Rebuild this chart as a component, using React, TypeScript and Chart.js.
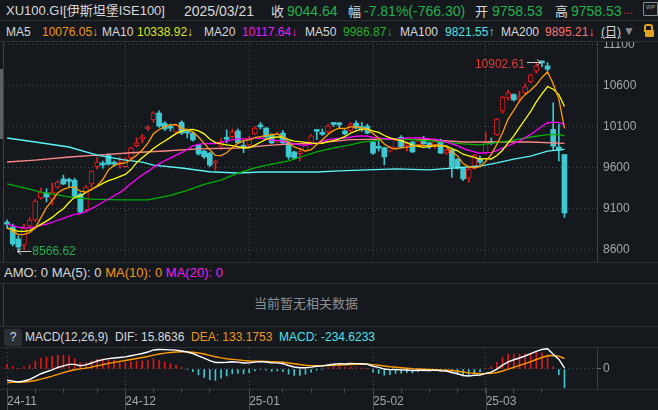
import React, { useEffect, useRef } from 'react';
import { Chart, registerables } from 'chart.js';

Chart.register(...registerables);

// ---------------- data ----------------
const monthKeys = ['2024-11', '2024-12', '2025-01', '2025-02', '2025-03'];
const monthLabels = ['24-11', '24-12', '25-01', '25-02', '25-03'];
const novDays = [1, 4, 5, 6, 7, 8, 11, 12, 13, 14, 15, 18, 19, 20, 21, 22, 25, 26, 27, 28, 29];
const decDays = [2, 3, 4, 5, 6, 9, 10, 11, 12, 13, 16, 17, 18, 19, 20, 23, 24, 25, 26, 27, 30, 31];
const janDays = [2, 3, 6, 7, 8, 9, 10, 13, 14, 15, 16, 17, 20, 21, 22, 23, 24, 27, 28, 29, 30, 31];
const febDays = [3, 4, 5, 6, 7, 10, 11, 12, 13, 14, 17, 18, 19, 20, 21, 24, 25, 26, 27, 28];
const marDays = [3, 4, 5, 6, 7, 10, 11, 12, 13, 14, 17, 18, 19, 20, 21];
const daysByMonth = [novDays, decDays, janDays, febDays, marDays];

const opens = [
  8930, 8874, 8728, 8654, 8886, 8959, 9228, 9289, 9215, 9362,
  9460, 9440, 9445, 9275, 9080, 9400, 9610, 9645, 9750, 9650,
  9640, 9610, 9720, 9865, 9950, 10070, 10180, 10265, 10140, 10100,
  10035, 10150, 10030, 10020, 9875, 9800, 9775, 9655, 9860, 9955,
  9975, 10045, 9855, 9875, 10010, 10105, 10080, 9995, 9910, 10020,
  9910, 9790, 9770, 9800, 9910, 10050, 10015, 10035, 10135, 10130,
  10045, 10045, 10140, 10085, 10105, 9910, 9845, 9840, 9800, 9840,
  9970, 9870, 9910, 9860, 9950, 9900, 9860, 9925, 9775, 9810,
  9700, 9590, 9470, 9590, 9700, 9780, 9905, 10000, 10290, 10450,
  10490, 10440, 10510, 10645, 10775, 10885, 10840, 10065, 9850, 9758.53,
];
const highs = [
  8960, 8910, 8764, 8910, 8990, 9210, 9350, 9340, 9411, 9440,
  9508, 9470, 9470, 9290, 9380, 9560, 9730, 9680, 9770, 9680,
  9730, 9720, 9850, 9960, 10000, 10110, 10280, 10290, 10160, 10130,
  10130, 10170, 10070, 10030, 9880, 9810, 9785, 9690, 9960, 10060,
  10070, 10070, 9920, 9980, 10100, 10150, 10090, 10010, 10030, 10050,
  9920, 9800, 9830, 9880, 10000, 10060, 10070, 10130, 10150, 10150,
  10060, 10150, 10170, 10150, 10130, 9920, 9930, 9850, 9860, 9950,
  9990, 9910, 9920, 9940, 9980, 9910, 9940, 9945, 9820, 9820,
  9710, 9600, 9620, 9760, 9740, 10030, 9960, 10200, 10470, 10540,
  10500, 10530, 10620, 10740, 10870, 10902.61, 10880, 10390, 10130, 9758.53,
];
const lows = [
  8860, 8642, 8566.62, 8593, 8860, 8940, 9210, 9180, 9142, 9340,
  9390, 9360, 9230, 9040, 9060, 9360, 9580, 9590, 9630, 9610,
  9590, 9600, 9700, 9850, 9900, 10050, 10150, 10090, 10050, 10045,
  10020, 10000, 9960, 9920, 9750, 9710, 9610, 9570, 9815, 9900,
  9960, 9890, 9780, 9860, 10000, 10070, 9960, 9890, 9900, 9890,
  9700, 9700, 9680, 9790, 9900, 9940, 9990, 10020, 10100, 10080,
  10000, 10030, 10070, 10040, 10010, 9760, 9800, 9630, 9790, 9830,
  9840, 9800, 9780, 9850, 9880, 9830, 9830, 9770, 9760, 9480,
  9580, 9440, 9420, 9580, 9640, 9770, 9880, 9990, 10260, 10420,
  10410, 10400, 10500, 10630, 10750, 10830, 10780, 9810, 9680, 8990,
];
const closes = [
  8910, 8667, 8630, 8862, 8959, 9191, 9301, 9240, 9301, 9423,
  9398, 9430, 9250, 9055, 9360, 9555, 9665, 9630, 9640, 9640,
  9665, 9700, 9840, 9900, 9965, 10085, 10265, 10105, 10070, 10080,
  10115, 10020, 10020, 9935, 9765, 9730, 9630, 9680, 9915, 9945,
  10035, 9900, 9845, 9960, 10080, 10095, 9970, 9900, 10010, 9900,
  9730, 9715, 9785, 9875, 9985, 10040, 10005, 10105, 10125, 10120,
  10010, 10130, 10080, 10075, 10020, 9775, 9835, 9730, 9850, 9935,
  9850, 9880, 9790, 9925, 9890, 9850, 9925, 9775, 9810, 9605,
  9590, 9460, 9580, 9750, 9665, 9910, 9895, 10190, 10460, 10510,
  10425, 10465, 10585, 10730, 10840, 10875, 10800, 9860, 9810.94, 9044.64,
];
// closes before the visible window (needed for the first MA values)
const priorCloses = [9050, 9000, 8980, 9020, 8950, 8940, 8900, 8930, 8880, 8950, 8880, 8820, 8850, 8870, 8830, 8900, 8840, 8850, 8850];

// long moving averages: [candle index, value]
const ma50Points: [number, number][] = [
  [0, 9400], [4, 9335], [6, 9300], [9, 9265], [12, 9230], [15, 9215], [20, 9205], [25, 9205],
  [29, 9260], [32, 9320], [35, 9395], [38, 9445], [41, 9530], [44, 9595], [47, 9640], [50, 9680],
  [52, 9725], [55, 9790], [58, 9840], [61, 9875], [63, 9910], [65, 9925], [67, 9945], [70, 9948],
  [75, 9925], [81, 9888], [84, 9875], [90, 9935], [93, 9972], [96, 10000], [98, 10003], [99, 9986.87],
];
const ma100Points: [number, number][] = [
  [0, 9960], [5, 9911], [11, 9850], [16, 9752], [21, 9691], [24, 9665], [26, 9630], [31, 9594],
  [36, 9548], [41, 9533], [45, 9545], [50, 9545], [55, 9545], [59, 9558], [64, 9570], [69, 9582],
  [75, 9570], [84, 9618], [87, 9655], [90, 9703], [93, 9740], [96, 9801], [99, 9821.55],
];
const ma200Points: [number, number][] = [
  [0, 9667], [5, 9691], [11, 9728], [16, 9752], [22, 9780], [28, 9801], [34, 9826], [41, 9838],
  [47, 9874], [50, 9886], [55, 9898], [61, 9940], [67, 9947], [75, 9940], [81, 9911], [87, 9911],
  [93, 9911], [99, 9895.21],
];

const priceTicks = [8600, 9100, 9600, 10100, 10600, 11100];
const weekTickIndex = [0, 5, 10, 16, 21, 26, 31, 36, 43, 49, 54, 60, 65, 70, 75, 80, 85, 90, 95];
const macdSeed = { ema12: 8950, ema26: 9100, dea: -180 };
const macdRange = { min: -240, max: 265 };
const priceRange = { min: 8447, max: 11131 };
const xRange = { min: -0.55, max: 104.78 };

const maLegend = [
  { name: 'MA5', value: '10076.05', arrow: '↓', color: '#f0961c', left: 6, vleft: 42 },
  { name: 'MA10', value: '10338.92', arrow: '↓', color: '#dde21c', left: 102, vleft: 137 },
  { name: 'MA20', value: '10117.64', arrow: '↓', color: '#f01cf0', left: 204, vleft: 242 },
  { name: 'MA50', value: '9986.87', arrow: '↓', color: '#22b022', left: 305, vleft: 343 },
  { name: 'MA100', value: '9821.55', arrow: '↑', color: '#4fe0e6', left: 400, vleft: 445 },
  { name: 'MA200', value: '9895.21', arrow: '↓', color: '#ff6f6f', left: 501, vleft: 545 },
];
const macdLegend = { dif: '15.8636', dea: '133.1753', macd: '-234.6233' };

// ---------------- derived ----------------
const dates: string[] = [];
daysByMonth.forEach((days, m) => days.forEach((d) => dates.push(`${monthKeys[m]}-${String(d).padStart(2, '0')}`)));
const monthStartIdx = monthKeys.map((k) => dates.findIndex((d) => d.startsWith(k)));
const idx = closes.map((_, i) => i);

const allCloses = [...priorCloses, ...closes];
const movingAvg = (n: number) =>
  closes.map((_, i) => {
    const end = priorCloses.length + i;
    let s = 0;
    for (let k = end - n + 1; k <= end; k++) s += allCloses[k];
    return s / n;
  });
const ma5 = movingAvg(5);
const ma10 = movingAvg(10);
const ma20 = movingAvg(20);

const difs: number[] = [];
const deas: number[] = [];
const hist: number[] = [];
{
  let e12 = macdSeed.ema12;
  let e26 = macdSeed.ema26;
  let dea = macdSeed.dea;
  closes.forEach((c) => {
    e12 += ((c - e12) * 2) / 13;
    e26 += ((c - e26) * 2) / 27;
    const dif = e12 - e26;
    dea += ((dif - dea) * 2) / 10;
    difs.push(dif);
    deas.push(dea);
    hist.push(2 * (dif - dea));
  });
}

const lastClose = closes[closes.length - 1];
const prevClose = closes[closes.length - 2];
const change = lastClose - prevClose;
const changePct = (change / prevClose) * 100;

// ---------------- style ----------------
const FONT = '"Liberation Sans", Arial, "Noto Sans CJK SC", sans-serif';
const BG = '#15181d';
const SEP = '#2d3137';
const GRID = '#474c54';
const AXIS_TEXT = '#a3a7ad';
const UP = '#e41e1e';
const DOWN = '#3fc8cf';
const GREEN = '#22b24c';
const LIGHT = '#d8d8d8';

const isUp = (i: number) => closes[i] >= opens[i];

const noPad = (s: any) => {
  s.paddingTop = 0;
  s.paddingBottom = 0;
  s.paddingLeft = 0;
  s.paddingRight = 0;
};

function MainChart() {
  const ref = useRef<HTMLCanvasElement>(null);
  useEffect(() => {
    const extrema = {
      id: 'extrema',
      afterDatasetsDraw(chart: any) {
        const { ctx, scales } = chart;
        const x = scales.x;
        const y = scales.y;
        const maxH = Math.max(...highs);
        const minL = Math.min(...lows);
        const hi = highs.indexOf(maxH);
        const lo = lows.indexOf(minL);
        ctx.save();
        ctx.font = `12px ${FONT}`;
        ctx.textBaseline = 'middle';
        ctx.strokeStyle = '#c9c9c9';
        ctx.lineWidth = 1;
        // high
        let px = x.getPixelForValue(hi);
        let py = Math.round(y.getPixelForValue(maxH)) + 1.5;
        ctx.beginPath();
        ctx.moveTo(px - 15, py);
        ctx.lineTo(px - 1, py);
        ctx.moveTo(px - 5, py - 3);
        ctx.lineTo(px - 1, py);
        ctx.lineTo(px - 5, py + 3);
        ctx.stroke();
        ctx.fillStyle = '#e23a3a';
        ctx.textAlign = 'right';
        ctx.fillText(maxH.toFixed(2), px - 17, py + 2);
        // low
        px = x.getPixelForValue(lo);
        py = Math.round(y.getPixelForValue(minL)) - 0.5;
        ctx.beginPath();
        ctx.moveTo(px - 1, py);
        ctx.lineTo(px + 13, py);
        ctx.moveTo(px + 3, py - 3);
        ctx.lineTo(px - 1, py);
        ctx.lineTo(px + 3, py + 3);
        ctx.stroke();
        ctx.fillStyle = GREEN;
        ctx.textAlign = 'left';
        ctx.fillText(minL.toFixed(2), px + 14, py);
        ctx.restore();
      },
    };
    const line = (data: { x: number; y: number }[], color: string) => ({
      type: 'line' as const,
      data,
      borderColor: color,
      borderWidth: 1.3,
      pointRadius: 0,
      tension: 0,
      order: 1,
    });
    const chart = new Chart(ref.current!, {
      type: 'bar',
      data: {
        datasets: [
          {
            type: 'bar',
            data: idx.map((i) => ({ x: i, y: [lows[i], highs[i]] })) as any,
            backgroundColor: idx.map((i) => (isUp(i) ? UP : DOWN)),
            barThickness: 1,
            grouped: false,
            order: 10,
          } as any,
          {
            type: 'bar',
            data: idx.map((i) => ({ x: i, y: [opens[i], closes[i]] })) as any,
            backgroundColor: idx.map((i) => (isUp(i) ? BG : DOWN)),
            borderColor: idx.map((i) => (isUp(i) ? UP : DOWN)),
            borderWidth: idx.map((i) => (isUp(i) ? 1 : 0)),
            borderSkipped: false,
            barThickness: 5,
            minBarLength: 2,
            grouped: false,
            order: 5,
          } as any,
          line(idx.map((i) => ({ x: i, y: ma5[i] })), '#ff9a00'),
          line(idx.map((i) => ({ x: i, y: ma10[i] })), '#ffff00'),
          line(idx.map((i) => ({ x: i, y: ma20[i] })), '#ff00ff'),
          line(ma50Points.map(([x, y]) => ({ x, y })), '#00b000'),
          line(ma100Points.map(([x, y]) => ({ x, y })), '#5cf4f4'),
          line(ma200Points.map(([x, y]) => ({ x, y })), '#ff8686'),
        ] as any,
      },
      options: {
        animation: false,
        responsive: false,
        events: [],
        layout: { padding: { left: 4, right: 0, top: 0, bottom: 0 } },
        plugins: { legend: { display: false }, tooltip: { enabled: false } },
        scales: {
          x: {
            type: 'linear',
            min: xRange.min,
            max: xRange.max,
            offset: false,
            afterBuildTicks: (s: any) => {
              s.ticks = monthStartIdx.slice(1).map((v) => ({ value: v }));
            },
            afterFit: (s: any) => {
              s.height = 0;
              noPad(s);
            },
            ticks: { display: false },
            grid: { color: GRID, drawTicks: false, offset: false },
            border: { display: false, dash: [1, 3] },
          },
          y: {
            type: 'linear',
            position: 'right',
            min: priceRange.min,
            max: priceRange.max,
            afterBuildTicks: (s: any) => {
              s.ticks = priceTicks.map((v) => ({ value: v }));
            },
            afterFit: (s: any) => {
              s.width = 61;
              noPad(s);
            },
            ticks: {
              color: AXIS_TEXT,
              font: { size: 12, family: FONT },
              padding: 6,
              callback: (v: any) => String(v),
            },
            grid: { color: GRID, drawTicks: false },
            border: { display: true, color: '#3a3e45', dash: [1, 3] },
          },
        },
      } as any,
      plugins: [extrema],
    });
    return () => chart.destroy();
  }, []);
  return (
    <canvas
      ref={ref}
      width={658}
      height={220}
      style={{ position: 'absolute', left: 0, top: 42, width: 658, height: 220 }}
    />
  );
}

function MacdChart() {
  const ref = useRef<HTMLCanvasElement>(null);
  useEffect(() => {
    const monthTicks = {
      id: 'monthTicks',
      afterDraw(chart: any) {
        const { ctx, chartArea, scales } = chart;
        ctx.save();
        ctx.strokeStyle = GRID;
        ctx.lineWidth = 1;
        monthStartIdx.forEach((i) => {
          const px = Math.round(scales.x.getPixelForValue(i)) + 0.5;
          ctx.beginPath();
          ctx.moveTo(px, chartArea.bottom);
          ctx.lineTo(px, chart.height);
          ctx.stroke();
        });
        ctx.restore();
      },
    };
    const chart = new Chart(ref.current!, {
      type: 'bar',
      data: {
        datasets: [
          {
            type: 'line',
            data: idx.map((i) => ({ x: i, y: difs[i] })),
            borderColor: '#ffffff',
            borderWidth: 1.4,
            pointRadius: 0,
            order: 1,
          },
          {
            type: 'line',
            data: idx.map((i) => ({ x: i, y: deas[i] })),
            borderColor: '#ff9a00',
            borderWidth: 1.4,
            pointRadius: 0,
            order: 2,
          },
          {
            type: 'bar',
            data: idx.map((i) => ({ x: i, y: hist[i] })),
            backgroundColor: idx.map((i) => (hist[i] >= 0 ? '#e01818' : DOWN)),
            barThickness: 1,
            grouped: false,
            order: 5,
          },
        ] as any,
      },
      options: {
        animation: false,
        responsive: false,
        events: [],
        layout: { padding: { left: 4, right: 0, top: 0, bottom: 0 } },
        plugins: { legend: { display: false }, tooltip: { enabled: false } },
        scales: {
          x: {
            type: 'linear',
            min: xRange.min,
            max: xRange.max,
            offset: false,
            afterBuildTicks: (s: any) => {
              s.ticks = weekTickIndex.map((v) => ({ value: v }));
            },
            afterFit: (s: any) => {
              s.height = 22;
              noPad(s);
            },
            ticks: {
              autoSkip: false,
              maxRotation: 0,
              align: 'start',
              padding: 1,
              color: AXIS_TEXT,
              font: { size: 12, family: FONT },
              callback: (v: any) => {
                const m = monthStartIdx.indexOf(Number(v));
                return m >= 0 ? monthLabels[m] : '';
              },
            },
            grid: {
              offset: false,
              color: (c: any) => (c.tick && monthStartIdx.includes(c.tick.value) ? GRID : 'rgba(0,0,0,0)'),
              tickColor: GRID,
              tickLength: 5,
            },
            border: { display: false, dash: [1, 3] },
          },
          y: {
            type: 'linear',
            position: 'right',
            min: macdRange.min,
            max: macdRange.max,
            afterBuildTicks: (s: any) => {
              s.ticks = [{ value: 0 }];
            },
            afterFit: (s: any) => {
              s.width = 61;
              noPad(s);
            },
            ticks: { color: AXIS_TEXT, font: { size: 12, family: FONT }, padding: 2 },
            grid: { color: GRID, tickColor: '#5b6b82', tickLength: 4 },
            border: { display: true, color: '#3a3e45', dash: [1, 3] },
          },
        },
      } as any,
      plugins: [monthTicks],
    });
    return () => chart.destroy();
  }, []);
  return (
    <canvas
      ref={ref}
      width={658}
      height={62}
      style={{ position: 'absolute', left: 0, top: 348, width: 658, height: 62 }}
    />
  );
}

const hLine = (top: number, color = SEP) => (
  <div style={{ position: 'absolute', left: 0, top, width: 658, height: 1, background: color }} />
);

const T = (left: number, top: number, text: string, color: string, size = 12, extra: any = {}) => (
  <span
    style={{
      position: 'absolute',
      left,
      top,
      color,
      fontSize: size,
      lineHeight: `${size + 4}px`,
      whiteSpace: 'nowrap',
      ...extra,
    }}
  >
    {text}
  </span>
);

export default function App() {
  return (
    <div
      style={{
        position: 'fixed',
        left: 0,
        top: 0,
        width: 658,
        height: 410,
        background: BG,
        overflow: 'hidden',
        fontFamily: FONT,
      }}
    >
      {/* row 1 */}
      {T(6, 2, 'XU100.GI[伊斯坦堡ISE100]', LIGHT, 13, { lineHeight: '18px' })}
      {T(184, 2, '2025/03/21', LIGHT, 14)}
      {T(271, 3, '收', LIGHT, 13)}
      {T(287, 2, lastClose.toFixed(2), GREEN, 14)}
      {T(348, 3, '幅', LIGHT, 13)}
      {T(364, 2, `${changePct.toFixed(2)}%(${change.toFixed(2)})`, GREEN, 14)}
      {T(475, 3, '开', LIGHT, 13)}
      {T(492, 2, opens[opens.length - 1].toFixed(2), GREEN, 14)}
      {T(555, 3, '高', LIGHT, 13)}
      {T(571, 2, highs[highs.length - 1].toFixed(2), GREEN, 14)}
      {T(623, 2, '...', '#e03030', 12)}
      <div
        style={{
          position: 'absolute',
          left: 643,
          top: 2,
          width: 13,
          height: 12,
          border: '1px solid #8a8e94',
          borderRadius: 1,
          color: '#9a9ea4',
          fontSize: 6,
          lineHeight: '8px',
          textAlign: 'center',
        }}
      >
        WP
      </div>
      {hLine(20)}
      {/* row 2 */}
      {maLegend.map((m) => (
        <React.Fragment key={m.name}>
          {T(m.left, 24, m.name, LIGHT, 12)}
          {T(m.vleft, 24, `${m.value}${m.arrow}`, m.color, 12)}
        </React.Fragment>
      ))}
      {T(601, 24, '(日)', LIGHT, 12, { textDecoration: 'underline' })}
      {T(623, 23, '▼', '#8a8e94', 12)}
      <div style={{ position: 'absolute', left: 645, top: 30, width: 9, height: 7, background: '#e0a020', borderRadius: 1 }} />
      <div
        style={{
          position: 'absolute',
          left: 644,
          top: 24,
          width: 5,
          height: 6,
          border: '2px solid #e0a020',
          borderBottom: 'none',
          borderRadius: '3px 3px 0 0',
        }}
      />
      {hLine(41)}
      {/* main chart */}
      <div style={{ position: 'absolute', left: 3, top: 42, width: 1, height: 220, background: '#3a3e45' }} />
      <div style={{ position: 'absolute', left: 0, top: 69, width: 3, height: 70, background: '#5b5f66' }} />
      <MainChart />
      {hLine(262)}
      {/* AMO panel */}
      <span style={{ position: 'absolute', left: 4, top: 264, fontSize: 13, lineHeight: '17px', whiteSpace: 'nowrap' }}>
        <span style={{ color: LIGHT }}>AMO: 0 </span>
        <span style={{ color: LIGHT }}>MA(5): 0 </span>
        <span style={{ color: '#f0961c' }}>MA(10): 0 </span>
        <span style={{ color: '#f01cf0' }}>MA(20): 0</span>
      </span>
      {hLine(283)}
      <div style={{ position: 'absolute', left: 3, top: 284, width: 1, height: 42, background: '#3a3e45' }} />
      {T(254, 295, '当前暂无相关数据', '#8c9096', 13)}
      {hLine(326)}
      {/* MACD header */}
      <div
        style={{
          position: 'absolute',
          left: 4,
          top: 329,
          width: 18,
          height: 17,
          background: '#2b2f36',
          borderRadius: 2,
          color: LIGHT,
          fontSize: 12,
          lineHeight: '17px',
          textAlign: 'center',
        }}
      >
        ?
      </div>
      {T(25, 329, 'MACD(12,26,9)', LIGHT, 12)}
      {T(115, 329, `DIF: ${macdLegend.dif}`, LIGHT, 12)}
      {T(191, 329, `DEA: ${macdLegend.dea}`, '#f0961c', 12)}
      {T(279, 329, `MACD: ${macdLegend.macd}`, '#4fe0e6', 12)}
      {hLine(347)}
      <MacdChart />
      {hLine(389)}
    </div>
  );
}
